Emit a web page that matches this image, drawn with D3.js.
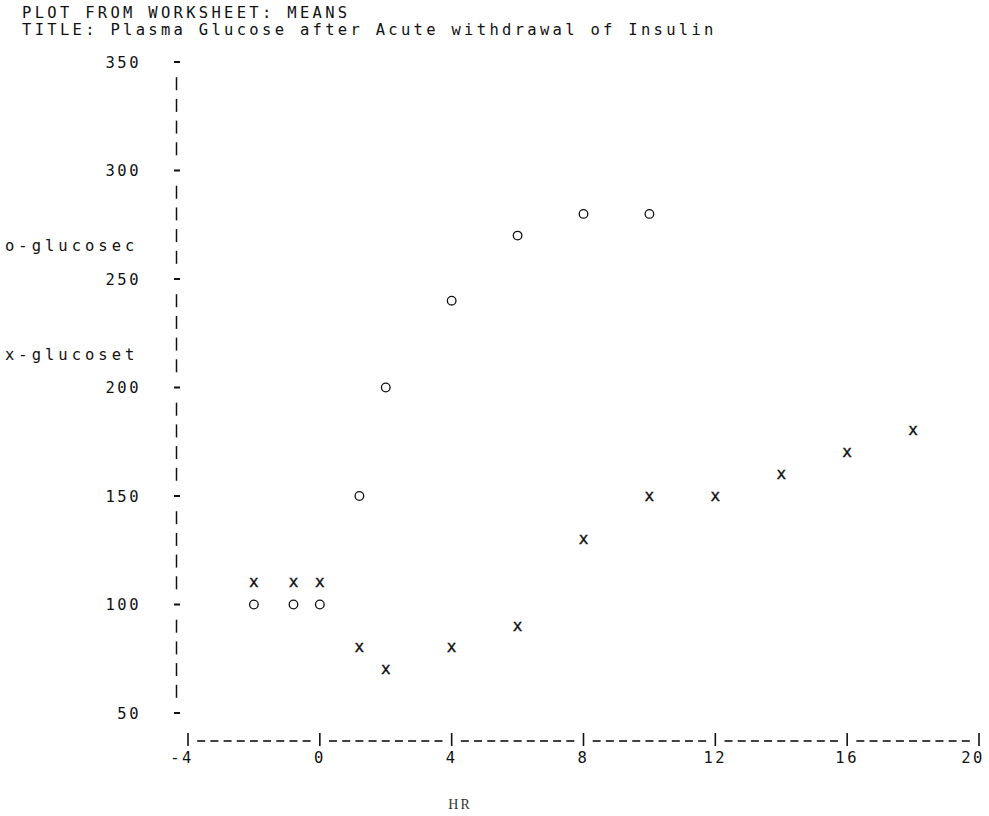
<!DOCTYPE html>
<html>
<head>
<meta charset="utf-8">
<script src="https://cdn.jsdelivr.net/npm/d3@7"></script>
<style>
  html, body { margin: 0; padding: 0; background: #fff; }
  svg { display: block; }
  .mono { font-family: "DejaVu Sans Mono", "Liberation Mono", monospace; font-size: 15.5px; fill: #111; }
</style>
</head>
<body>
<svg id="chart" width="989" height="816"></svg>
<script>
// ---- data ----
const titleLines = ["PLOT FROM WORKSHEET: MEANS",
                    "TITLE: Plasma Glucose after Acute withdrawal of Insulin"];
const hr        = [-2, -1, 0, 1, 2, 4, 6, 8, 10, 12, 14, 16, 18];
const glucoset  = [110, 110, 110, 80, 70, 80, 90, 130, 150, 150, 160, 170, 180];
const hrC       = [-2, -1, 0, 1, 2, 4, 6, 8, 10];
const glucosec  = [100, 100, 100, 150, 200, 240, 270, 280, 280];
const yTicks    = [50, 100, 150, 200, 250, 300, 350];
const xTicks    = [-4, 0, 4, 8, 12, 16, 20];
const seriesLabels = ["o-glucosec", "x-glucoset"];
const xTitle = "HR";

// ---- layout ----
const svg = d3.select("#chart");
const x = d3.scaleLinear().domain([-4, 20]).range([188, 979]);
const y = d3.scaleLinear().domain([50, 350]).range([713, 62]);
const xStep = 0.4;   // line-printer column width in data units
const yStep = 10;    // line-printer row height in data units
const qx = v => x(Math.round((v - x.domain()[0]) / xStep) * xStep + x.domain()[0]);
const qy = v => y(Math.round(v / yStep) * yStep);
const LS = "3.3px";
const ink = "#111";

// title
svg.selectAll("text.title").data(titleLines).join("text")
  .attr("class", "mono title")
  .attr("x", 22).attr("y", (d, i) => 18 + i * 17)
  .style("letter-spacing", LS)
  .text(d => d);

// y axis: printer marks on every row
const yRows = d3.range(y.domain()[0], y.domain()[1] + 1, yStep);
const isYTick = d => yTicks.includes(d);
svg.selectAll("line.yrow").data(yRows).join("line")
  .attr("class", "yrow")
  .attr("x1", d => isYTick(d) ? 174 : 176.5)
  .attr("x2", d => isYTick(d) ? 180 : 176.5)
  .attr("y1", d => isYTick(d) ? y(d) : y(d) - 6.5)
  .attr("y2", d => isYTick(d) ? y(d) : y(d) + 6.5)
  .attr("stroke", ink)
  .attr("stroke-width", d => isYTick(d) ? 2 : 1.5);

svg.selectAll("text.ylab").data(yTicks).join("text")
  .attr("class", "mono ylab")
  .attr("x", 141).attr("y", d => y(d) + 5.5)
  .attr("text-anchor", "end")
  .style("letter-spacing", "2.5px")
  .text(d => d);

// series labels on the y axis
svg.selectAll("text.slab").data(seriesLabels).join("text")
  .attr("class", "mono slab")
  .attr("x", 5).attr("y", (d, i) => [y(265), y(215)][i] + 5)
  .style("letter-spacing", "4px")
  .text(d => d);

// x axis: printer marks on every column
const xCols = d3.range(0, Math.round((x.domain()[1] - x.domain()[0]) / xStep) + 1)
  .map(i => x.domain()[0] + i * xStep);
const isXTick = d => xTicks.some(t => Math.abs(t - d) < 1e-6);
svg.selectAll("line.xcol").data(xCols).join("line")
  .attr("class", "xcol")
  .attr("x1", d => isXTick(d) ? x(d) : x(d) - 4)
  .attr("x2", d => isXTick(d) ? x(d) : x(d) + 4)
  .attr("y1", d => isXTick(d) ? 733 : 741)
  .attr("y2", d => isXTick(d) ? 746 : 741)
  .attr("stroke", ink)
  .attr("stroke-width", 1.6);

svg.selectAll("text.xlab").data(xTicks).join("text")
  .attr("class", "mono xlab")
  .attr("x", (d, i) => x(d) + (i === 0 ? -6 : (i === xTicks.length - 1 ? -6 : 0)))
  .attr("y", 763)
  .attr("text-anchor", "middle")
  .style("letter-spacing", "2.5px")
  .text(d => d);

// x title
svg.append("text")
  .attr("x", 460).attr("y", 809)
  .attr("text-anchor", "middle")
  .style("font-family", "'Liberation Serif', 'DejaVu Serif', serif")
  .style("font-size", "14px")
  .style("letter-spacing", "2px")
  .style("fill", "#333")
  .text(xTitle);

// points: glucosec = "o", glucoset = "x"
const ptsC = hrC.map((h, i) => ({ h, v: glucosec[i] }));
const ptsT = hr.map((h, i) => ({ h, v: glucoset[i] }));

svg.selectAll("circle.o").data(ptsC).join("circle")
  .attr("class", "o")
  .attr("cx", d => qx(d.h)).attr("cy", d => qy(d.v))
  .attr("r", 4.3)
  .attr("fill", "none").attr("stroke", ink).attr("stroke-width", 1.3);

svg.selectAll("text.xm").data(ptsT).join("text")
  .attr("class", "mono xm")
  .attr("x", d => qx(d.h)).attr("y", d => qy(d.v) + 4.5)
  .attr("text-anchor", "middle")
  .style("font-size", "16px")
  .style("stroke", ink).style("stroke-width", 0.4)
  .text("x");
</script>
</body>
</html>
